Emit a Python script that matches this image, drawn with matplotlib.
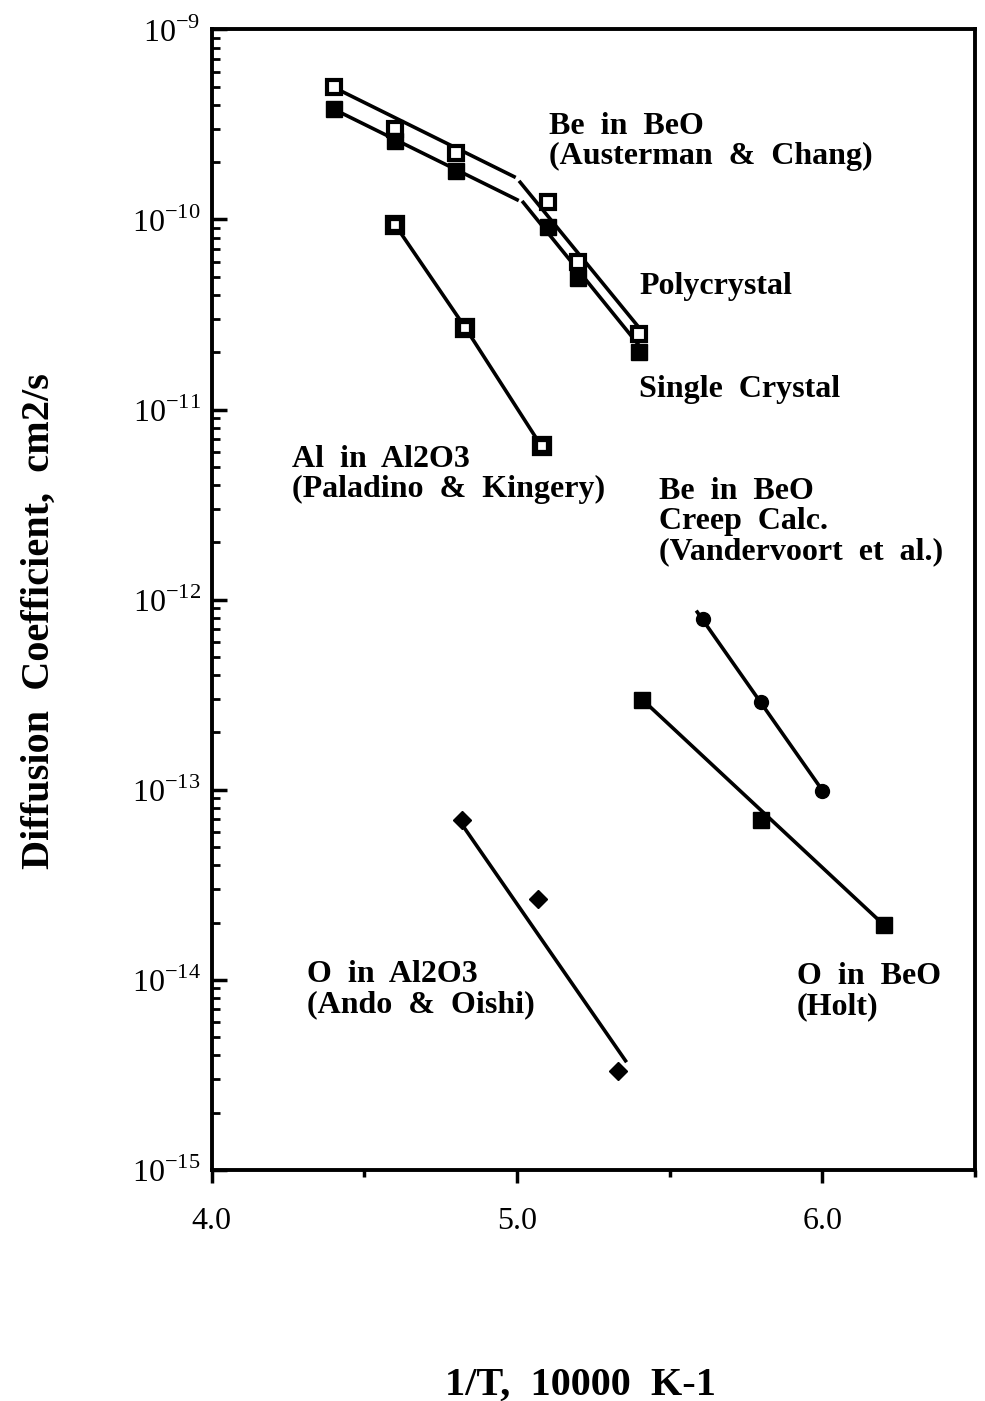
import numpy as np
import matplotlib.pyplot as plt
from matplotlib.ticker import LogLocator, NullFormatter, FixedLocator

plt.rcParams['font.family'] = ['Liberation Serif', 'DejaVu Serif']
plt.rcParams['mathtext.fontset'] = 'custom'
plt.rcParams['mathtext.rm'] = 'Liberation Serif'

# Be in BeO (Austerman & Chang)
x_be = [4.4, 4.6, 4.8, 5.1, 5.2, 5.4]
d_poly = [5.0e-10, 2.98e-10, 2.25e-10, 1.23e-10, 6.0e-11, 2.5e-11]
d_single = [3.8e-10, 2.6e-10, 1.8e-10, 9.1e-11, 4.95e-11, 2.0e-11]
# fitted lines, two segments each (gap near 5.0)
fit_poly_x = [[4.40, 4.99], [5.01, 5.41]]
fit_poly_y = [[4.95e-10, 1.68e-10], [1.57e-10, 2.57e-11]]
fit_single_x = [[4.40, 5.00], [5.02, 5.41]]
fit_single_y = [[3.8e-10, 1.27e-10], [1.23e-10, 2.07e-11]]

# Al in Al2O3 (Paladino & Kingery)
x_al = [4.6, 4.83, 5.08]
d_al = [9.4e-11, 2.7e-11, 6.4e-12]

# Be in BeO, creep calc (Vandervoort et al.)
x_creep = [5.61, 5.80, 6.00]
d_creep = [7.9e-13, 2.9e-13, 9.9e-14]
fit_creep_x = [5.59, 6.00]
fit_creep_y = [8.6e-13, 9.9e-14]

# O in BeO (Holt)
x_obeo = [5.41, 5.80, 6.20]
d_obeo = [2.98e-13, 6.95e-14, 1.95e-14]

# O in Al2O3 (Ando & Oishi)
x_oal = [4.82, 5.07, 5.33]
d_oal = [6.9e-14, 2.67e-14, 3.3e-15]
fit_oal_x = [4.81, 5.355]
fit_oal_y = [6.9e-14, 3.75e-15]

# curve labels: text, x, y (block centre)
labels = ['Be  in  BeO\n(Austerman  &  Chang)', 'Polycrystal', 'Single  Crystal',
          'Al  in  Al2O3\n(Paladino  &  Kingery)',
          'Be  in  BeO\nCreep  Calc.\n(Vandervoort  et  al.)',
          'O  in  Al2O3\n(Ando  &  Oishi)', 'O  in  BeO\n(Holt)']
label_x = [5.103, 5.40, 5.40, 4.262, 5.466, 4.311, 5.915]
label_y = [2.58e-10, 4.43e-11, 1.27e-11, 4.55e-12, 2.58e-12, 8.86e-15, 8.64e-15]

fig = plt.figure(figsize=(9.85, 14.01), dpi=100)
ax = fig.add_axes([0.215, 0.165, 0.775, 0.814])

lw = 2.6
for xs, ys in zip(fit_poly_x, fit_poly_y):
    ax.plot(xs, ys, 'k-', lw=lw)
for xs, ys in zip(fit_single_x, fit_single_y):
    ax.plot(xs, ys, 'k-', lw=lw)
ax.plot(x_be, d_poly, 's', ms=10, mfc='white', mec='black', mew=3)
ax.plot(x_be, d_single, 's', ms=11, color='black')

ax.plot(x_al, d_al, 'k-', lw=lw)
ax.plot(x_al, d_al, 's', ms=10, mfc='white', mec='black', mew=4.5)

ax.plot(fit_creep_x, fit_creep_y, 'k-', lw=lw)
ax.plot(x_creep, d_creep, 'o', ms=10, color='black')

ax.plot([x_obeo[0], x_obeo[-1]], [d_obeo[0], d_obeo[-1]], 'k-', lw=lw)
ax.plot(x_obeo, d_obeo, 's', ms=11, color='black')

ax.plot(fit_oal_x, fit_oal_y, 'k-', lw=lw)
ax.plot(x_oal, d_oal, 'D', ms=9, color='black')

ax.set_yscale('log')
ax.set_xlim(4.0, 6.5)
ax.set_ylim(1e-15, 1e-9)

ax.xaxis.set_major_locator(FixedLocator([4.0, 5.0, 6.0]))
ax.xaxis.set_minor_locator(FixedLocator([4.5, 5.5, 6.5]))
ax.set_xticklabels(['4.0', '5.0', '6.0'], fontsize=23)
ax.tick_params(axis='x', which='major', direction='out', length=9, width=2.5, pad=18)
ax.tick_params(axis='x', which='minor', direction='out', length=5, width=2.5)

ax.yaxis.set_minor_locator(LogLocator(base=10, subs=np.arange(2, 10), numticks=20))
ax.yaxis.set_minor_formatter(NullFormatter())
exps = [-15, -14, -13, -12, -11, -10, -9]
ax.set_yticks([10.0 ** e for e in exps])
ax.set_yticklabels([r'$10^{-%d}$' % -e for e in exps], fontsize=23)
ax.tick_params(axis='y', which='major', direction='in', length=11, width=2.5, pad=8)
ax.tick_params(axis='y', which='minor', direction='in', length=6, width=2)
ax.tick_params(top=False, right=False, which='both')

for s in ax.spines.values():
    s.set_linewidth(2.8)

for txt, lx, ly in zip(labels, label_x, label_y):
    ax.text(lx, ly, txt, fontsize=23, fontweight='bold', ha='left', va='center',
            linespacing=1.05)

fig.text(0.04, 0.557, 'Diffusion  Coefficient,  cm2/s', rotation=90,
         fontsize=29, fontweight='bold', ha='center', va='center')
fig.text(0.589, 0.0114, '1/T,  10000  K-1', fontsize=29, fontweight='bold',
         ha='center', va='center')

fig.savefig('out.png', dpi=100)
